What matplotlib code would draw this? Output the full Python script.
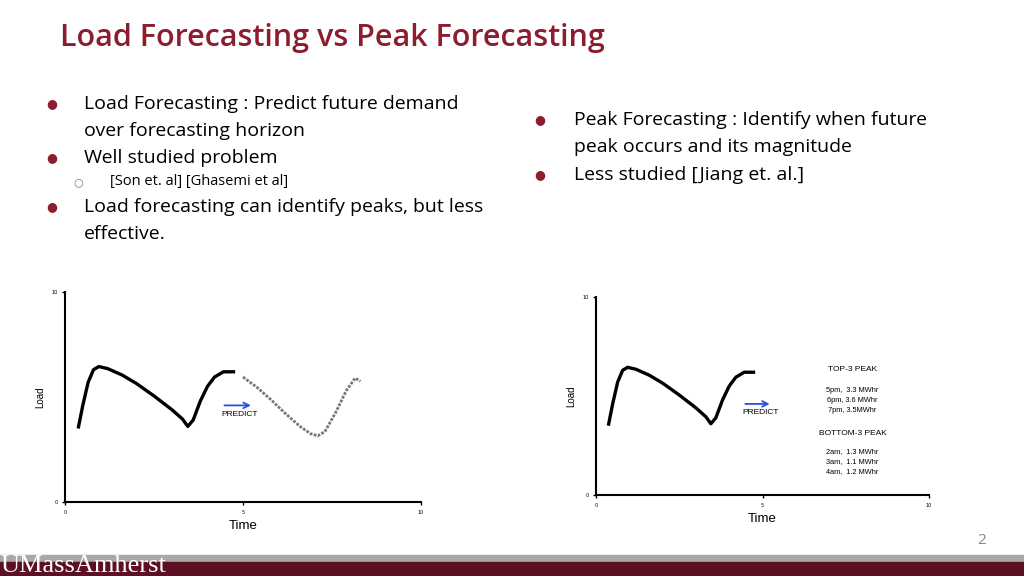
import matplotlib.pyplot as plt
from matplotlib.patches import Rectangle

hist_x = [0.37, 0.5, 0.65, 0.8, 0.95, 1.2, 1.6, 2.0, 2.5, 3.0, 3.3, 3.45, 3.6, 3.8, 4.0, 4.2, 4.45, 4.78]
hist_y = [3.5, 4.6, 5.7, 6.3, 6.45, 6.35, 6.05, 5.65, 5.05, 4.4, 3.95, 3.6, 3.9, 4.8, 5.5, 5.95, 6.2, 6.2]
# forecast curve
pred_x = [5.0, 5.4, 5.8, 6.2, 6.6, 6.9, 7.1, 7.3, 7.6, 7.9, 8.15, 8.3]
pred_y = [5.95, 5.45, 4.85, 4.2, 3.6, 3.25, 3.15, 3.35, 4.25, 5.3, 5.9, 5.75]

top_peaks = ["5pm,  3.3 MWhr", "6pm, 3.6 MWhr", "7pm, 3.5MWhr"]
bottom_peaks = ["2am,  1.3 MWhr", "3am,  1.1 MWhr", "4am,  1.2 MWhr"]

fig = plt.figure(figsize=(10.24, 5.76), dpi=100)
font = "Open Sans"
red = "#8c1d2e"

fig.text(60/1024, 1-38/576, "Load Forecasting vs Peak Forecasting", color=red,
         fontsize=22, family=font, weight="semibold", va="center")

def px(x, y):
    return x/1024, 1-y/576

left_items = [(104, "Load Forecasting : Predict future demand", True),
              (131, "over forecasting horizon", None),
              (158, "Well studied problem", True),
              (207, "Load forecasting can identify peaks, but less", True),
              (234, "effective.", None)]
for y, t, b in left_items:
    fig.text(*px(84, y), t, fontsize=14, family=font, va="center")
    if b:
        fig.text(*px(52, y), "●", fontsize=9, color=red, va="center", ha="center")
fig.text(*px(110, 182), "[Son et. al] [Ghasemi et al]", fontsize=10.5, family=font, va="center")
fig.text(*px(78, 182), "○", fontsize=8, color="#777", va="center", ha="center")

right_items = [(120, "Peak Forecasting : Identify when future", True),
               (147, "peak occurs and its magnitude", None),
               (175, "Less studied [Jiang et. al.]", True)]
for y, t, b in right_items:
    fig.text(*px(574, y), t, fontsize=14, family=font, va="center")
    if b:
        fig.text(*px(540, y), "●", fontsize=9, color=red, va="center", ha="center")

def setup(ax):
    ax.set_xlim(0, 10)
    ax.set_ylim(0, 10)
    ax.set_xticks([0, 5, 10])
    ax.set_yticks([0, 10])
    ax.tick_params(labelsize=3.5, length=2, width=1)
    for s in ["top", "right"]:
        ax.spines[s].set_visible(False)
    for s in ["left", "bottom"]:
        ax.spines[s].set_linewidth(1.5)
    ax.set_xlabel("Time", fontsize=9.5, family="Liberation Sans")
    ax.set_ylabel("Load", fontsize=7, family="Liberation Sans")
    ax.plot(hist_x, hist_y, color="black", lw=2.4, solid_capstyle="butt")
    ax.annotate("", xy=(5.3, 4.6), xytext=(4.4, 4.6),
                arrowprops=dict(arrowstyle="->", color="#2a4fe0", lw=1.3))
    ax.text(4.4, 4.1, "PREDICT", fontsize=6, family="Liberation Sans")

ax1 = fig.add_axes([65/1024, 74/576, 356/1024, 210/576])
setup(ax1)
ax1.plot(pred_x, pred_y, color="#777", lw=2, ls=(0, (1, 0.5)))

ax2 = fig.add_axes([596/1024, 81/576, 333/1024, 198/576])
setup(ax2)
ax2.text(7.7, 6.25, "TOP-3 PEAK", fontsize=6, ha="center", family="Liberation Sans")
for i, t in enumerate(top_peaks):
    ax2.text(7.7, 5.2 - i*0.5, t, fontsize=5.3, ha="center", family="Liberation Sans")
ax2.text(7.7, 3.05, "BOTTOM-3 PEAK", fontsize=6, ha="center", family="Liberation Sans")
for i, t in enumerate(bottom_peaks):
    ax2.text(7.7, 2.1 - i*0.5, t, fontsize=5.3, ha="center", family="Liberation Sans")

fig.text(*px(982, 541), "2", fontsize=11, color="#888", ha="center", va="center", family=font)
fig.patches.append(Rectangle((0, 14/576), 1, 7/576, transform=fig.transFigure,
                             color="#a8a8a8"))
fig.patches.append(Rectangle((0, 0), 1, 14/576, transform=fig.transFigure,
                             color="#5e1023"))
fig.text(*px(0, 566), "UMassAmherst", fontsize=19, color="white", va="center",
         family="Liberation Serif")

fig.savefig("out.png", dpi=100)
